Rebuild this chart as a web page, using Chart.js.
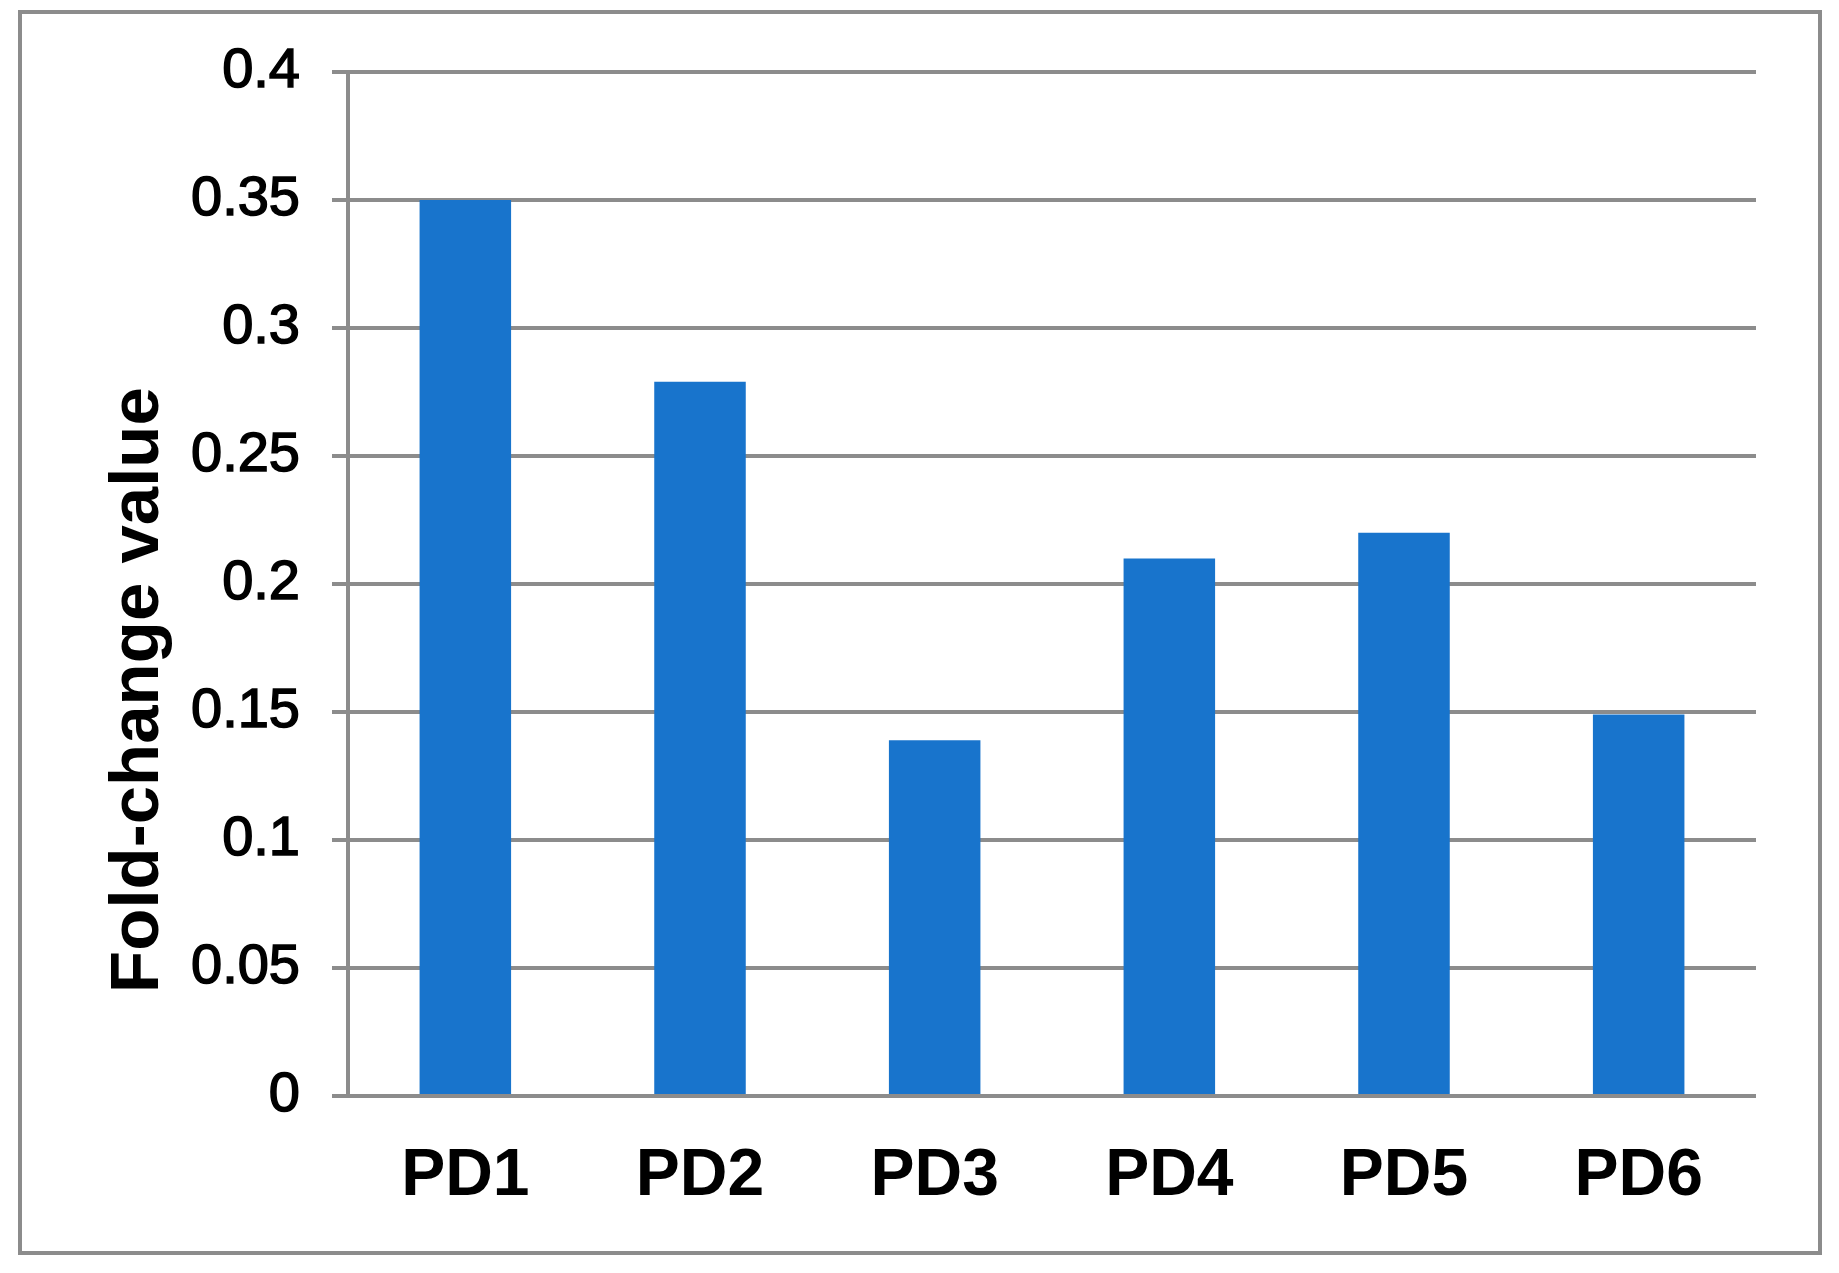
<!DOCTYPE html>
<html>
<head>
<meta charset="utf-8">
<script src="https://cdn.jsdelivr.net/npm/chart.js@4"></script>
<style>
  html, body { margin: 0; padding: 0; background: #fff; }
  #wrap { width: 1839px; height: 1273px; }
</style>
</head>
<body>
<div id="wrap"><canvas id="chart" width="1839" height="1273"></canvas></div>
<script>
// chart data
const categories = ['PD1', 'PD2', 'PD3', 'PD4', 'PD5', 'PD6']
const foldChange = [0.35, 0.279, 0.139, 0.21, 0.22, 0.149]
const yTickLabels = ['0', '0.05', '0.1', '0.15', '0.2', '0.25', '0.3', '0.35', '0.4']
const yTitle = 'Fold-change value'

const gridGray = '#8c8c8c'

// outer frame round the whole picture
const framePlugin = {
  id: 'frame',
  beforeDraw(chart) {
    const ctx = chart.ctx
    ctx.save()
    ctx.fillStyle = '#fff'
    ctx.fillRect(0, 0, chart.width, chart.height)
    ctx.strokeStyle = gridGray
    ctx.lineWidth = 4
    ctx.strokeRect(20, 12, 1800, 1241)
    ctx.restore()
  }
}

// rotated axis title (sits lower than the axis centre in the original)
const yTitlePlugin = {
  id: 'yTitle',
  afterDraw(chart) {
    const ctx = chart.ctx
    ctx.save()
    ctx.translate(158, 690)
    ctx.rotate(-Math.PI / 2)
    ctx.font = 'bold 69px "Liberation Sans", Arial, sans-serif'
    ctx.fillStyle = '#000'
    ctx.textAlign = 'center'
    ctx.textBaseline = 'alphabetic'
    ctx.fillText(yTitle, 0, 0)
    ctx.restore()
  }
}

new Chart(document.getElementById('chart'), {
  type: 'bar',
  data: {
    labels: categories,
    datasets: [{
      label: yTitle,
      data: foldChange,
      backgroundColor: 'rgb(24,116,204)',
      borderWidth: 0,
      categoryPercentage: 1,
      barPercentage: 0.39
    }]
  },
  options: {
    responsive: false,
    animation: false,
    devicePixelRatio: 1,
    layout: { padding: { top: 72, right: 83, bottom: 0, left: 0 } },
    plugins: {
      legend: { display: false },
      tooltip: { enabled: false }
    },
    scales: {
      x: {
        grid: { display: false },
        border: { display: false },
        ticks: {
          color: '#000',
          padding: 33,
          font: { family: '"Liberation Sans", Arial, sans-serif', size: 66, weight: 'bold' }
        },
        afterFit: s => { s.height = 177 }
      },
      y: {
        min: 0,
        max: 0.4,
        grid: { color: gridGray, lineWidth: 4, tickLength: 16, tickColor: gridGray },
        border: { color: gridGray, width: 4 },
        ticks: {
          stepSize: 0.05,
          color: '#000',
          textStrokeColor: '#000',
          textStrokeWidth: 1.5,
          padding: 32,
          font: { family: '"Liberation Sans", Arial, sans-serif', size: 56 },
          callback: v => yTickLabels[Math.round(v / 0.05)]
        },
        afterFit: s => { s.width = 348 }
      }
    }
  },
  plugins: [framePlugin, yTitlePlugin]
})
</script>
</body>
</html>
